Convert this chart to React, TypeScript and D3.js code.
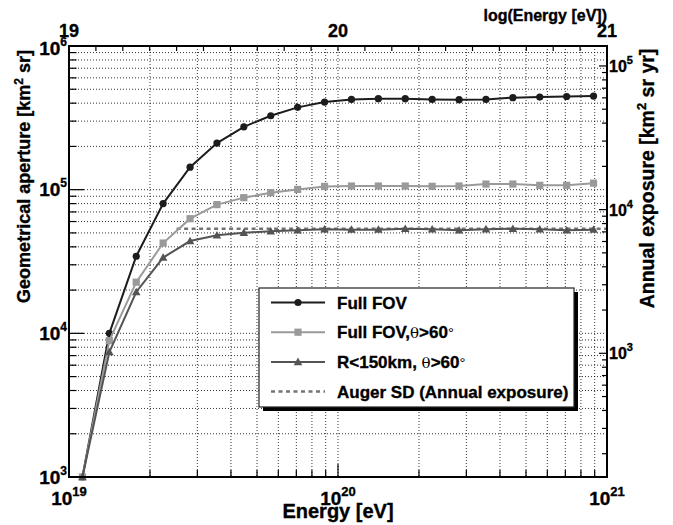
import React from "react";
import * as d3 from "d3";

// ---- data ----
const logEnergy = [19.05, 19.15, 19.25, 19.35, 19.45, 19.55, 19.65, 19.75, 19.85, 19.95,
  20.05, 20.15, 20.25, 20.35, 20.45, 20.55, 20.65, 20.75, 20.85, 20.95];
const fullFov = [1000, 1.0e4, 3.44e4, 8.0e4, 1.435e5, 2.11e5, 2.74e5, 3.27e5, 3.74e5, 4.07e5,
  4.25e5, 4.3e5, 4.3e5, 4.25e5, 4.23e5, 4.25e5, 4.37e5, 4.41e5, 4.45e5, 4.48e5];
const fullFovTheta60 = [1000, 8.9e3, 2.27e4, 4.25e4, 6.28e4, 7.87e4, 8.8e4, 9.53e4, 1.004e5, 1.054e5,
  1.06e5, 1.06e5, 1.06e5, 1.055e5, 1.06e5, 1.094e5, 1.094e5, 1.072e5, 1.072e5, 1.11e5];
const r150Theta60 = [1000, 7.4e3, 1.94e4, 3.37e4, 4.39e4, 4.81e4, 5.02e4, 5.13e4, 5.21e4, 5.3e4,
  5.27e4, 5.27e4, 5.35e4, 5.3e4, 5.22e4, 5.31e4, 5.35e4, 5.3e4, 5.22e4, 5.27e4];
const augerLogRange = [19.4, 21];
const augerAnnualExposure = 7350; // km^2 sr yr (right axis)

const xDomain = [1e19, 1e21];
const xTopDomain = [19, 21];
const yDomain = [1e3, 1e6];
const yRightDomain = [137.7, 137700];
const xLabels = [{ v: 1e19, e: "19" }, { v: 1e20, e: "20" }, { v: 1e21, e: "21" }];
const xTopLabels = [19, 20, 21];
const yLabels = [{ v: 1e3, e: "3" }, { v: 1e4, e: "4" }, { v: 1e5, e: "5" }, { v: 1e6, e: "6" }];
const yRightLabels = [{ v: 1e3, e: "3" }, { v: 1e4, e: "4" }, { v: 1e5, e: "5" }];

const legendItems = [
  { key: "full", label: "Full FOV", theta: false },
  { key: "t60", label: "Full FOV,", theta: true },
  { key: "r150", label: "R<150km, ", theta: true },
  { key: "auger", label: "Auger SD (Annual exposure)", theta: false },
];

// ---- layout ----
const W = 673, H = 525;
const X0 = 69, X1 = 607, Y0 = 46, Y1 = 477;
const FONT = "'Liberation Sans', Arial, Helvetica, sans-serif";
const C_FULL = "#1c1c1c", C_T60 = "#9a9a9a", C_R150 = "#545454", C_AUGER = "#747474";
const TXT = { fontWeight: 700, stroke: "#000", strokeWidth: 0.35, fill: "#000" } as const;

const isDecade = (v: number) => Math.abs(Math.log10(v) - Math.round(Math.log10(v))) < 1e-9;

function Marker({ kind, cx, cy, color }: { kind: string; cx: number; cy: number; color: string }) {
  if (kind === "full") return <circle cx={cx} cy={cy} r={3.6} fill={color} />;
  if (kind === "t60") return <rect x={cx - 3.6} y={cy - 3.6} width={7.2} height={7.2} fill={color} />;
  const s = 4.3;
  return <path d={`M${cx},${cy - s}L${cx + s},${cy + s * 0.75}L${cx - s},${cy + s * 0.75}Z`} fill={color} />;
}

export default function App() {
  const x = d3.scaleLog().domain(xDomain).range([X0, X1]);
  const xTop = d3.scaleLinear().domain(xTopDomain).range([X0, X1]);
  const y = d3.scaleLog().domain(yDomain).range([Y1, Y0]);
  const yR = d3.scaleLog().domain(yRightDomain).range([Y1, Y0]);

  const xTicks = x.ticks();
  const yTicks = y.ticks();
  const yRTicks = yR.ticks();
  const xTopTicks = xTop.ticks(20);

  const line = d3.line<[number, number]>().x((d) => x(Math.pow(10, d[0]))).y((d) => y(d[1]));
  const series = [
    { key: "full", vals: fullFov, color: C_FULL },
    { key: "t60", vals: fullFovTheta60, color: C_T60 },
    { key: "r150", vals: r150Theta60, color: C_R150 },
  ];

  const lx = 259, ly = 288, lw = 315, lh = 119;
  const rowY = (i: number) => ly + 14.5 + i * 29.7;

  return (
    <svg width={W} height={H} style={{ position: "absolute", left: 0, top: 0, background: "#fff" }}
      fontFamily={FONT} fontWeight="bold">
      <rect width={W} height={H} fill="#fff" />
      {/* grid */}
      <g stroke="#000" strokeWidth={0.8} strokeDasharray="1 2">
        {xTicks.filter((v) => v > xDomain[0] && v < xDomain[1]).map((v, i) => (
          <line key={"gx" + i} x1={x(v)} x2={x(v)} y1={Y0} y2={Y1} />
        ))}
        {yTicks.filter((v) => v > yDomain[0] && v < yDomain[1]).map((v, i) => (
          <line key={"gy" + i} x1={X0} x2={X1} y1={y(v)} y2={y(v)} />
        ))}
      </g>
      {/* ticks */}
      <g stroke="#000" strokeWidth={1.2}>
        {xTicks.map((v, i) => (
          <line key={"tx" + i} x1={x(v)} x2={x(v)} y1={Y1} y2={Y1 - (isDecade(v) ? 13 : 7)} />
        ))}
        {yTicks.map((v, i) => (
          <line key={"ty" + i} x1={X0} x2={X0 + (isDecade(v) ? 15 : 7.5)} y1={y(v)} y2={y(v)} />
        ))}
        {yRTicks.map((v, i) => (
          <line key={"tr" + i} x1={X1} x2={X1 - (isDecade(v) ? 8 : 5)} y1={yR(v)} y2={yR(v)} />
        ))}
        {xTopTicks.map((v, i) => (
          <line key={"tt" + i} x1={xTop(v)} x2={xTop(v)} y1={Y0} y2={Y0 + 5} />
        ))}
      </g>
      {/* auger dashed */}
      <line x1={x(Math.pow(10, augerLogRange[0]))} x2={x(Math.pow(10, augerLogRange[1]))}
        y1={yR(augerAnnualExposure)} y2={yR(augerAnnualExposure)}
        stroke={C_AUGER} strokeWidth={2.5} strokeDasharray="4 3.5" />
      {/* series */}
      {series.map((s) => {
        const pts = logEnergy.map((e, i) => [e, s.vals[i]] as [number, number]);
        return (
          <g key={s.key}>
            <path d={line(pts) || ""} fill="none" stroke={s.color} strokeWidth={2} />
            {pts.map((p, i) => (
              <Marker key={i} kind={s.key} cx={x(Math.pow(10, p[0]))} cy={y(p[1])} color={s.color} />
            ))}
          </g>
        );
      })}
      {/* frame */}
      <rect x={X0} y={Y0} width={X1 - X0} height={Y1 - Y0} fill="none" stroke="#000" strokeWidth={2} />
      {/* bottom labels */}
      {xLabels.map((l, i) => (
        <text key={"lx" + i} x={x(l.v)} y={505} textAnchor="middle" fontSize={19} style={TXT}>
          10<tspan dy={-9} fontSize={13}>{l.e}</tspan>
        </text>
      ))}
      {/* top labels */}
      {xTopLabels.map((v, i) => (
        <text key={"lt" + i} x={xTop(v)} y={37} textAnchor="middle" fontSize={18} style={TXT}>{v}</text>
      ))}
      {/* left labels */}
      {yLabels.map((l, i) => (
        <text key={"ly" + i} x={67} y={y(l.v) + (l.v === 1e6 ? 9 : 6.6)} textAnchor="end" fontSize={19} style={TXT}>
          10<tspan dy={-9} fontSize={12}>{l.e}</tspan>
        </text>
      ))}
      {/* right labels */}
      {yRightLabels.map((l, i) => (
        <text key={"lr" + i} x={609} y={yR(l.v) + 6} textAnchor="start" fontSize={16} style={TXT}>
          10<tspan dy={-8} fontSize={11}>{l.e}</tspan>
        </text>
      ))}
      {/* axis titles */}
      <text x={X1} y={21} textAnchor="end" fontSize={16} style={TXT}>log(Energy [eV])</text>
      <text x={(X0 + X1) / 2} y={518} textAnchor="middle" fontSize={20} style={TXT}>Energy [eV]</text>
      <text transform={`translate(30,${(Y0 + 303) / 2 + 2}) rotate(-90)`} textAnchor="middle" fontSize={18} style={TXT}>
        Geometrical aperture [km<tspan dy={-7} fontSize={12}>2</tspan><tspan dy={7}> sr]</tspan>
      </text>
      <text transform={`translate(654,${(45 + 312) / 2}) rotate(-90)`} textAnchor="middle" fontSize={19.5} style={TXT}>
        Annual exposure [km<tspan dy={-8} fontSize={13}>2</tspan><tspan dy={8}> sr yr]</tspan>
      </text>
      {/* legend */}
      <rect x={lx + 4} y={ly + 4} width={lw} height={lh} fill="#000" />
      <rect x={lx} y={ly} width={lw} height={lh} fill="#fff" stroke="#222" strokeWidth={1.2} />
      {legendItems.map((it, i) => {
        const cy = rowY(i);
        const color = it.key === "full" ? C_FULL : it.key === "t60" ? C_T60 : it.key === "r150" ? C_R150 : C_AUGER;
        return (
          <g key={it.key}>
            {it.key === "auger" ? (
              <line x1={271} x2={325} y1={cy} y2={cy} stroke={color} strokeWidth={2.5} strokeDasharray="4 3.5" />
            ) : (
              <>
                <line x1={271} x2={325} y1={cy} y2={cy} stroke={color} strokeWidth={2} />
                <Marker kind={it.key} cx={298} cy={cy} color={color} />
              </>
            )}
            <text x={337} y={cy + 6} fontSize={17} style={TXT}>
              {it.label}
              {it.theta ? (
                <>
                  <tspan fontFamily="'DejaVu Serif', 'Liberation Serif', serif" fontSize={15}
                    style={{ fontWeight: 400, strokeWidth: 0 }}>θ</tspan>
                  <tspan>&gt;60</tspan>
                  <tspan fontSize={15} style={{ fontWeight: 400, strokeWidth: 0 }}>°</tspan>
                </>
              ) : null}
            </text>
          </g>
        );
      })}
    </svg>
  );
}
